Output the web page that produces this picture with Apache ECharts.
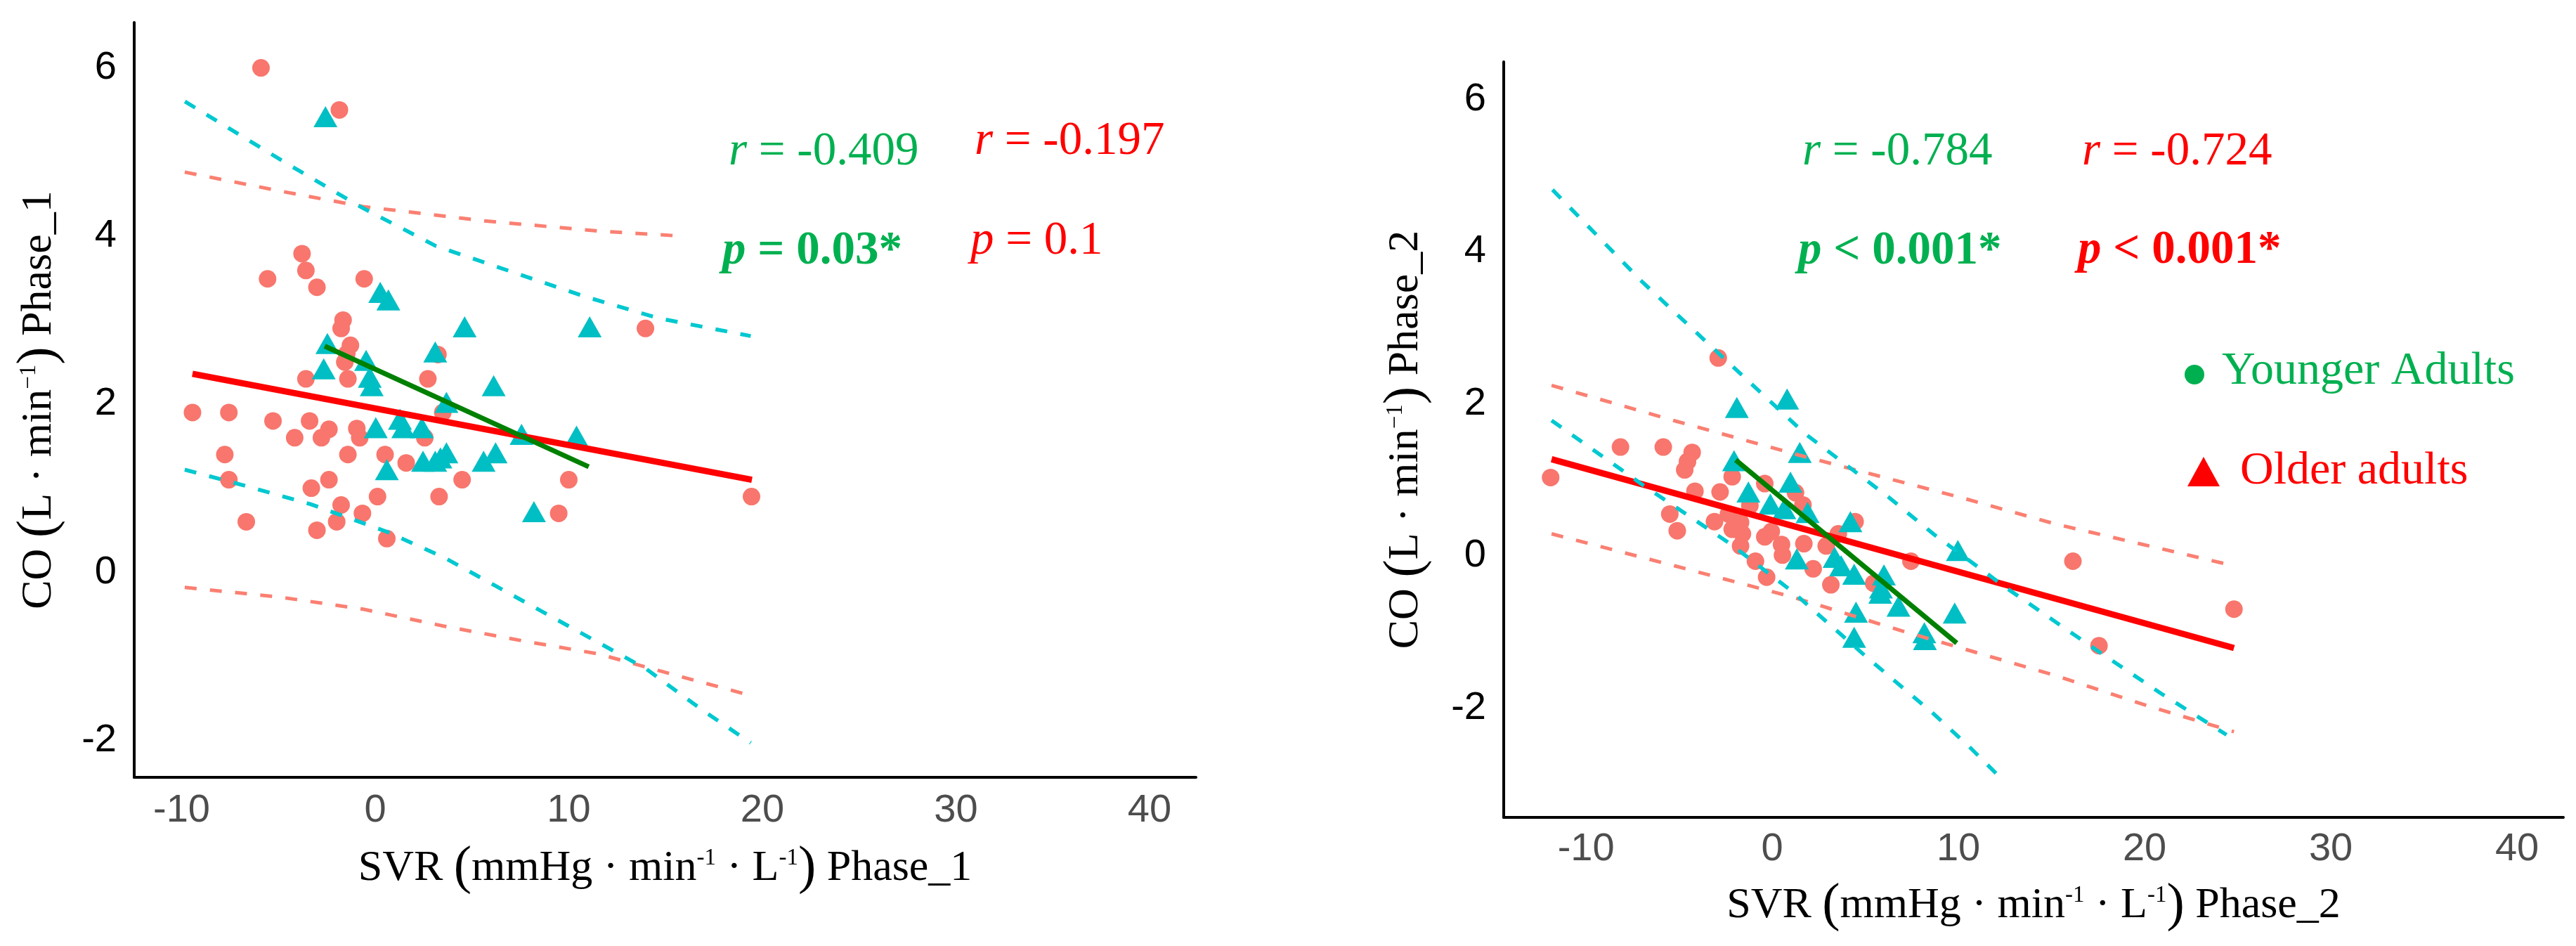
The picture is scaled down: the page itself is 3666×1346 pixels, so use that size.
<!DOCTYPE html>
<html><head><meta charset="utf-8">
<script src="https://cdn.jsdelivr.net/npm/echarts@6/dist/echarts.min.js"></script>
<style>html,body{margin:0;padding:0;background:#fff}#c{width:3666px;height:1346px}</style>
</head><body><div id="c"></div>
<script>
// ---------- tick labels ----------
const xTicks = [-10, 0, 10, 20, 30, 40];
const yTicks = [-2, 0, 2, 4, 6];

// ---------- Phase 1 ----------
const phase1Circles = [[-5.9,6.0],[-1.85,5.5],[-3.78,3.79],[-3.58,3.59],[-5.56,3.49],[-3.01,3.39],[-0.57,3.49],[-1.66,3.0],[-1.76,2.9],[-1.28,2.7],[-1.47,2.6],[-1.57,2.5],[3.24,2.59],[-3.58,2.3],[-1.41,2.3],[2.72,2.3],[13.96,2.9],[-9.44,1.9],[-7.56,1.9],[-5.28,1.8],[-3.39,1.8],[-2.39,1.7],[-0.95,1.71],[-4.16,1.6],[-2.78,1.6],[-0.8,1.6],[2.56,1.6],[3.49,1.9],[-7.77,1.4],[-1.41,1.4],[0.51,1.4],[1.6,1.3],[-7.56,1.1],[-2.39,1.1],[-3.3,1.0],[4.49,1.1],[10.0,1.1],[0.12,0.9],[3.3,0.9],[-1.76,0.8],[-0.66,0.7],[-1.99,0.6],[-6.66,0.6],[-3.01,0.5],[0.6,0.4],[9.48,0.7],[19.44,0.9]];
const phase1Triangles = [[-2.57,5.42],[0.26,3.33],[0.68,3.24],[4.62,2.92],[11.08,2.92],[-2.47,2.72],[3.1,2.62],[-2.66,2.42],[-0.47,2.52],[-0.28,2.32],[-0.18,2.22],[6.12,2.22],[3.68,2.02],[0.03,1.72],[1.28,1.82],[1.45,1.72],[2.41,1.72],[7.56,1.64],[10.4,1.62],[3.68,1.42],[3.37,1.36],[2.47,1.32],[3.1,1.32],[5.6,1.32],[6.22,1.42],[0.6,1.22],[8.2,0.72]];
const phase1RedFit = [[-9.44,2.36],[19.46,1.10]];
const phase1GreenFit = [[-2.61,2.69],[11.03,1.255]];
const phase1TealUpper = [[-9.83,5.6],[-4.55,4.86],[-0.7,4.34],[3.14,3.88],[6.98,3.58],[10.83,3.28],[14.67,3.02],[19.4,2.81]];
const phase1TealLower = [[-9.84,1.22],[-6.9,1.04],[-3.34,0.81],[0.62,0.48],[3.52,0.18],[14.0,-1.15],[16.9,-1.64],[19.4,-2.03]];
const phase1PinkUpper = [[-9.84,4.76],[-4.8,4.53],[-0.62,4.35],[5.63,4.18],[11.5,4.06],[15.75,4.0]];
const phase1PinkLower = [[-9.84,-0.18],[-4.8,-0.3],[-0.62,-0.44],[3.52,-0.64],[7.7,-0.82],[11.5,-0.97],[15.6,-1.23],[19.46,-1.47]];

// ---------- Phase 2 ----------
const phase2Circles = [[-11.9,1.03],[-8.15,1.43],[-5.85,1.43],[-4.3,1.36],[-4.55,1.24],[-4.7,1.13],[-4.15,0.85],[-5.5,0.55],[-5.1,0.33],[-2.9,2.6],[-2.8,0.84],[-2.15,1.04],[-3.1,0.45],[-2.35,0.55],[-2.15,0.35],[-1.7,0.44],[-1.6,0.29],[-1.7,0.13],[-1.2,0.66],[-0.4,0.95],[-0.4,0.25],[-0.05,0.32],[0.5,0.15],[-0.9,-0.07],[-0.3,-0.28],[1.25,0.83],[1.65,0.67],[1.7,0.16],[0.55,0.01],[2.2,-0.17],[2.9,0.13],[3.55,0.29],[3.15,-0.38],[4.45,0.45],[7.45,-0.07],[5.45,-0.36],[16.15,-0.07],[24.8,-0.7],[17.55,-1.18]];
const phase2Triangles = [[-1.9,1.95],[0.8,2.06],[1.48,1.36],[-2.05,1.25],[0.98,0.97],[-1.28,0.84],[-0.1,0.68],[0.65,0.62],[1.9,0.57],[4.2,0.45],[1.32,-0.04],[3.35,-0.02],[3.7,-0.13],[4.4,-0.24],[6.0,-0.25],[5.8,-0.49],[6.78,-0.66],[4.5,-0.74],[9.97,0.07],[9.8,-0.75],[4.4,-1.07],[8.17,-1.01],[8.2,-1.1],[5.84,-0.42]];
const phase2RedFit = [[-11.85,1.27],[24.8,-1.21]];
const phase2GreenFit = [[-1.96,1.26],[9.91,-1.145]];
const phase2TealUpper = [[-11.8,4.81],[-6.94,3.59],[-2.83,2.65],[1.74,1.61],[6.26,0.77],[8.7,0.28],[12.57,-0.42],[17.43,-1.24],[20.9,-1.81],[24.4,-2.35]];
const phase2TealLower = [[-11.85,1.78],[-6.94,0.93],[-2.32,0.17],[1.09,-0.47],[4.98,-1.31],[8.6,-2.06],[10.6,-2.51],[12.2,-2.9]];
const phase2PinkUpper = [[-11.85,2.24],[-5.17,1.77],[1.5,1.32],[10.24,0.76],[15.2,0.42],[24.8,-0.13]];
const phase2PinkLower = [[-11.85,0.29],[-5.25,-0.13],[1.09,-0.54],[6.9,-0.98],[15.2,-1.57],[20.3,-1.98],[24.8,-2.31]];

// ---------- annotation texts ----------
const stats = [
  {panel:1, r:'-0.409', p:'= 0.03*', col:'#00B050', pBold:true},
  {panel:1, r:'-0.197', p:'= 0.1', col:'#FF0000', pBold:false},
  {panel:2, r:'-0.784', p:'< 0.001*', col:'#00B050', pBold:true},
  {panel:2, r:'-0.724', p:'< 0.001*', col:'#FF0000', pBold:true}
];
const legendNames = ['Younger Adults', 'Older adults'];

// ---------- styling ----------
const SERIF = 'Liberation Serif';
const SANS = 'Liberation Sans';
const CIRCLE = '#F8766D', TRI = '#00BFC4', TEAL_D = '#00C8D0', PINK_D = '#FA8072';
const GREEN_T = '#00B050', RED_T = '#FF0000';

const nameStyle = {
  fontFamily: SERIF, fontSize: 62, color: '#000', lineHeight: 62,
  rich: {
    sup: { fontFamily: SERIF, fontSize: 33, lineHeight: 22, verticalAlign: 'top', color: '#000' },
    par: { fontFamily: SERIF, fontSize: 76, lineHeight: 62, verticalAlign: 'middle', color: '#000' }
  }
};
function xAxisCfg(grid, min, max, name, gap, margin){
  return {
    type: 'value', gridIndex: grid, min: min, max: max,
    splitLine: {show:false}, axisTick: {show:false},
    axisLine: {onZero:false, lineStyle:{color:'#000', width:4}},
    axisLabel: {customValues: xTicks, fontFamily: SANS, fontSize: 56, color: '#4D4D4D', margin: margin},
    name: name, nameLocation: 'middle', nameGap: gap, nameTextStyle: nameStyle
  };
}
function yAxisCfg(grid, min, max, name, gap){
  return {
    type: 'value', gridIndex: grid, min: min, max: max,
    splitLine: {show:false}, axisTick: {show:false},
    axisLine: {onZero:false, lineStyle:{color:'#000', width:4}},
    axisLabel: {customValues: yTicks, fontFamily: SANS, fontSize: 56, color: '#000', margin: 25},
    name: name, nameLocation: 'middle', nameRotate: 90, nameGap: gap, nameTextStyle: nameStyle
  };
}
function scatter(name, data, idx, sym, size, color){
  return {name:name, type:'scatter', xAxisIndex:idx, yAxisIndex:idx, data:data, symbol:sym, symbolSize:size,
    itemStyle:{color:color, opacity:1}, z:2};
}
function line(data, idx, color, width, dashed){
  return {type:'line', xAxisIndex:idx, yAxisIndex:idx, data:data, showSymbol:false, symbol:'none',
    smooth:false,
    lineStyle:{color:color, width:width, type: dashed ? [17,19] : 'solid', cap:'butt'}, z:3, silent:true};
}

const chart = echarts.init(document.getElementById('c'), null, {renderer:'canvas'});

const graphics = [];
const statPos = {
  '1-0': {rx:1037, ry:216, px:1028, py:358},
  '1-1': {rx:1387, ry:201, px:1381, py:343},
  '2-0': {rx:2565, ry:216, px:2559, py:358},
  '2-1': {rx:2963, ry:216, px:2957, py:357}
};
let counters = {1:0, 2:0};
stats.forEach(s => {
  const k = s.panel + '-' + (counters[s.panel]++);
  const pos = statPos[k];
  const fs = 67;
  graphics.push({type:'text', x:pos.rx, y:pos.ry, style:{
    text:'{i|r}{n| = ' + s.r + '}', align:'left', verticalAlign:'middle', fill:s.col,
    rich:{ i:{fontFamily:SERIF, fontSize:fs, fontStyle:'italic', fill:s.col},
           n:{fontFamily:SERIF, fontSize:fs, fill:s.col} } }});
  const w = s.pBold ? 'bold' : 'normal';
  graphics.push({type:'text', x:pos.px, y:pos.py, style:{
    text:'{i|p}{n| ' + s.p + '}', align:'left', verticalAlign:'middle', fill:s.col,
    rich:{ i:{fontFamily:SERIF, fontSize:fs, fontStyle:'italic', fontWeight:w, fill:s.col},
           n:{fontFamily:SERIF, fontSize:fs, fontWeight:w, fill:s.col} } }});
});
// custom legend
graphics.push({type:'circle', shape:{cx:3123, cy:533, r:14}, style:{fill:GREEN_T}});
graphics.push({type:'text', x:3162, y:529, style:{text:legendNames[0], fontFamily:SERIF, fontSize:66, fill:GREEN_T, align:'left', verticalAlign:'middle'}});
graphics.push({type:'polygon', shape:{points:[[3136,650],[3159,692],[3113,692]]}, style:{fill:RED_T}});
graphics.push({type:'text', x:3188, y:671, style:{text:legendNames[1], fontFamily:SERIF, fontSize:66, fill:RED_T, align:'left', verticalAlign:'middle'}});

chart.setOption({
  animation: false,
  backgroundColor: '#fff',
  grid: [
    {left:191, top:32, width:1511, height:1074},
    {left:2140, top:88, width:1508, height:1075}
  ],
  xAxis: [
    xAxisCfg(0, -12.45, 42.4, 'SVR {par|(}mmHg · min{sup|-1} · L{sup|-1}{par|)} Phase_1', 99, 20),
    xAxisCfg(1, -14.42, 42.49, 'SVR {par|(}mmHg · min{sup|-1} · L{sup|-1}{par|)} Phase_2', 95, 18)
  ],
  yAxis: [
    yAxisCfg(0, -2.44, 6.54, 'CO {par|(}L · min{sup|−1}{par|)} Phase_1', 104),
    yAxisCfg(1, -3.435, 6.49, 'CO {par|(}L · min{sup|−1}{par|)} Phase_2', 108)
  ],
  series: [
    scatter('Younger Adults', phase1Circles, 0, 'circle', 25, CIRCLE),
    scatter('Older adults', phase1Triangles, 0, 'triangle', [34,30], TRI),
    line(phase1RedFit, 0, '#FF0000', 9, false),
    line(phase1GreenFit, 0, '#008000', 7, false),
    line(phase1PinkUpper, 0, PINK_D, 5, true),
    line(phase1PinkLower, 0, PINK_D, 5, true),
    line(phase1TealUpper, 0, TEAL_D, 5.5, true),
    line(phase1TealLower, 0, TEAL_D, 5.5, true),
    scatter('Younger Adults', phase2Circles, 1, 'circle', 25, CIRCLE),
    scatter('Older adults', phase2Triangles, 1, 'triangle', [34,30], TRI),
    line(phase2RedFit, 1, '#FF0000', 9, false),
    line(phase2GreenFit, 1, '#008000', 7, false),
    line(phase2PinkUpper, 1, PINK_D, 5, true),
    line(phase2PinkLower, 1, PINK_D, 5, true),
    line(phase2TealUpper, 1, TEAL_D, 5.5, true),
    line(phase2TealLower, 1, TEAL_D, 5.5, true)
  ],
  graphic: graphics
});
</script></body></html>
